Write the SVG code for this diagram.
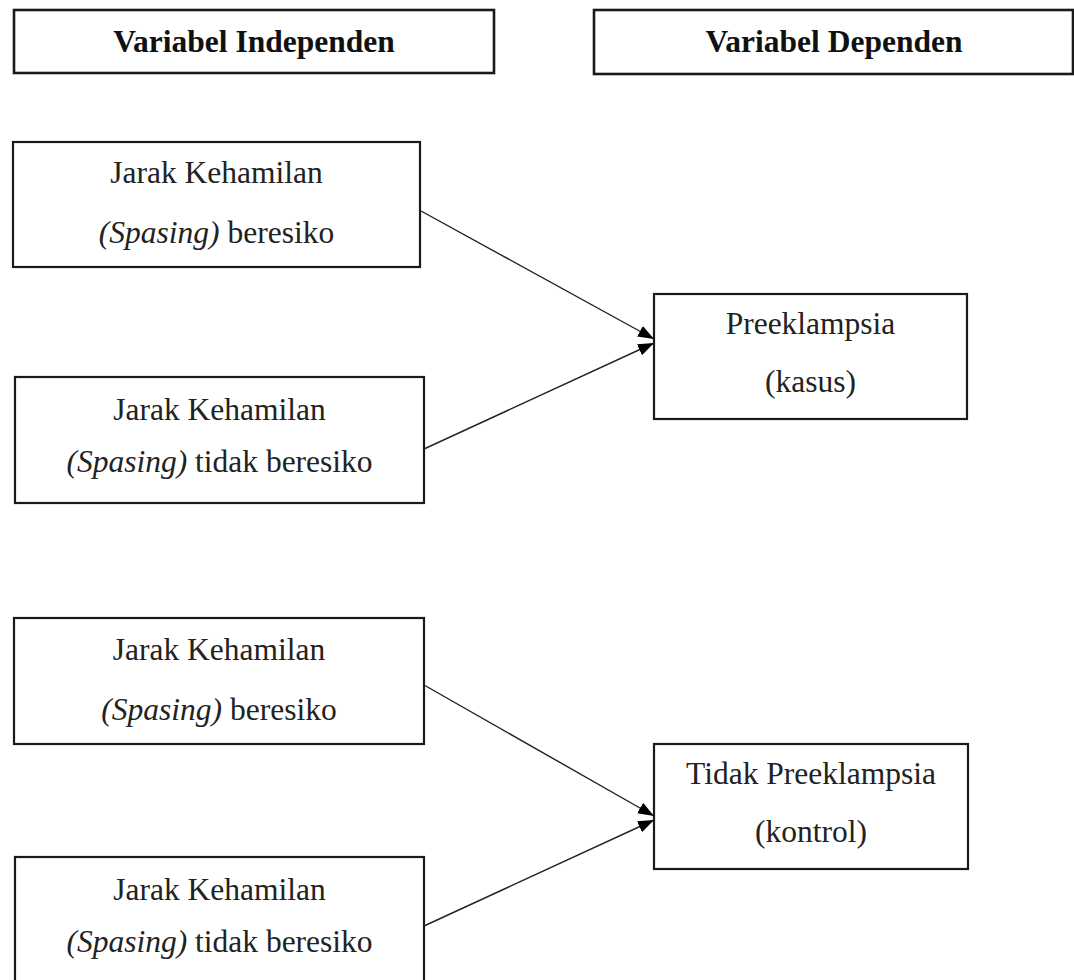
<svg xmlns="http://www.w3.org/2000/svg" width="1074" height="980" viewBox="0 0 1074 980">
<style>
.box{fill:#fff;stroke:#1a1a1a;stroke-width:2.2}
.hbox{fill:#fff;stroke:#1a1a1a;stroke-width:2.6}
.t{font-family:"Liberation Serif","Times New Roman",serif;font-size:31.5px;fill:#222;text-anchor:middle}
.h{font-family:"Liberation Serif","Times New Roman",serif;font-size:31.5px;font-weight:bold;fill:#111;text-anchor:middle}
.i{font-style:italic}
.c{stroke:#222;stroke-width:1.4;fill:none}
</style>
<defs>
<marker id="arr" markerUnits="userSpaceOnUse" markerWidth="18" markerHeight="14" refX="16" refY="7" orient="auto">
<path d="M0,1 L16,7 L0,13 Z" fill="#000"/>
</marker>
</defs>
<rect width="1074" height="980" fill="#fff"/>
<g id="header-independen">
<rect class="hbox" x="14" y="10" width="480" height="63"/>
<text class="h" x="254" y="52">Variabel Independen</text>
</g>
<g id="header-dependen">
<rect class="hbox" x="594" y="10" width="479" height="64"/>
<text class="h" x="834" y="52">Variabel Dependen</text>
</g>
<g id="a1">
<rect class="box" x="13" y="142" width="407" height="125"/>
<text class="t" x="216.5" y="183">Jarak Kehamilan</text>
<text class="t" x="216.5" y="243"><tspan class="i">(Spasing)</tspan> beresiko</text>
</g>
<g id="a2">
<rect class="box" x="15" y="377" width="409" height="126"/>
<text class="t" x="219.5" y="420">Jarak Kehamilan</text>
<text class="t" x="219.5" y="472"><tspan class="i">(Spasing)</tspan> tidak beresiko</text>
</g>
<g id="kasus">
<rect class="box" x="654" y="294" width="313" height="125"/>
<text class="t" x="810.5" y="334">Preeklampsia</text>
<text class="t" x="810.5" y="392">(kasus)</text>
</g>
<g id="b1">
<rect class="box" x="14" y="618" width="410" height="126"/>
<text class="t" x="219" y="660">Jarak Kehamilan</text>
<text class="t" x="219" y="720"><tspan class="i">(Spasing)</tspan> beresiko</text>
</g>
<g id="b2">
<rect class="box" x="15" y="857" width="409" height="140"/>
<text class="t" x="219.5" y="900">Jarak Kehamilan</text>
<text class="t" x="219.5" y="952"><tspan class="i">(Spasing)</tspan> tidak beresiko</text>
</g>
<g id="kontrol">
<rect class="box" x="654" y="744" width="314" height="125"/>
<text class="t" x="811" y="784">Tidak Preeklampsia</text>
<text class="t" x="811" y="842">(kontrol)</text>
</g>
<g id="connectors">
<line class="c" x1="421" y1="211" x2="654" y2="339" marker-end="url(#arr)"/>
<line class="c" x1="424" y1="449" x2="654" y2="343" marker-end="url(#arr)"/>
<line class="c" x1="424" y1="685" x2="654" y2="816" marker-end="url(#arr)"/>
<line class="c" x1="424" y1="926" x2="654" y2="820" marker-end="url(#arr)"/>
</g>
</svg>
